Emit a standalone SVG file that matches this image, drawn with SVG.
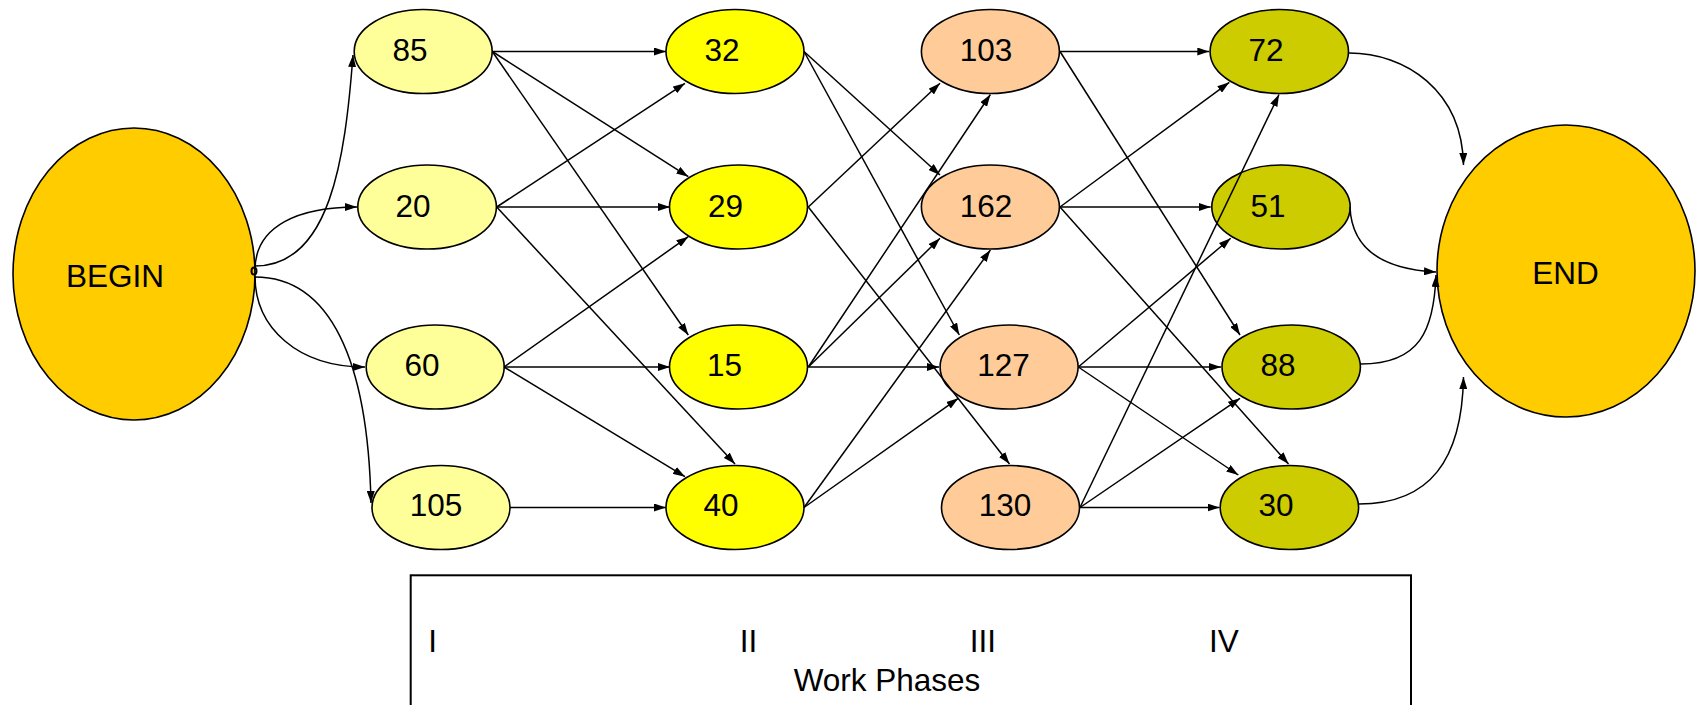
<svg xmlns="http://www.w3.org/2000/svg" width="1696" height="705" viewBox="0 0 1696 705">
<defs>
<marker id="arr" markerUnits="userSpaceOnUse" markerWidth="12" markerHeight="8" refX="12" refY="4" orient="auto">
<path d="M0,0 L12,4 L0,8 z" fill="#000"/>
</marker>
<style>
.n ellipse{stroke:#000;stroke-width:1.6}
.c1{fill:#FFFF99}.c2{fill:#FFFF00}.c3{fill:#FFCC99}.c4{fill:#CCCC00}.ce{fill:#FFCC00}
text{font-family:"Liberation Sans",Arial,sans-serif;font-size:31.5px;fill:#000;text-anchor:middle}
#connectors path,#connectors line{stroke:#000;stroke-width:1.5;fill:none;marker-end:url(#arr)}
</style>
</defs>
<rect width="1696" height="705" fill="#fff"/>
<g id="nodes" class="n">
<g id="begin"><ellipse class="ce" cx="134" cy="274" rx="121" ry="146"/><text x="115" y="287">BEGIN</text></g>
<g id="end"><ellipse class="ce" cx="1566" cy="271" rx="129" ry="146"/><text x="1565.5" y="284">END</text></g>
<g id="n85"><ellipse class="c1" cx="423.2" cy="51.5" rx="69" ry="42"/><text x="410" y="61">85</text></g>
<g id="n20"><ellipse class="c1" cx="427.1" cy="207" rx="69.3" ry="42"/><text x="413" y="217">20</text></g>
<g id="n60"><ellipse class="c1" cx="435.2" cy="367" rx="69" ry="42"/><text x="422" y="376">60</text></g>
<g id="n105"><ellipse class="c1" cx="441" cy="507.5" rx="69" ry="42"/><text x="436" y="516">105</text></g>
<g id="n32"><ellipse class="c2" cx="735" cy="51.5" rx="69" ry="42"/><text x="722" y="61">32</text></g>
<g id="n29"><ellipse class="c2" cx="738.5" cy="207" rx="69" ry="42"/><text x="725.5" y="217">29</text></g>
<g id="n15"><ellipse class="c2" cx="738.5" cy="367" rx="69" ry="42"/><text x="724.5" y="376">15</text></g>
<g id="n40"><ellipse class="c2" cx="735" cy="507.5" rx="69" ry="42"/><text x="721" y="516">40</text></g>
<g id="n103"><ellipse class="c3" cx="990.4" cy="51.5" rx="69" ry="42"/><text x="986" y="61">103</text></g>
<g id="n162"><ellipse class="c3" cx="990.4" cy="207" rx="69" ry="42"/><text x="986" y="217">162</text></g>
<g id="n127"><ellipse class="c3" cx="1009.1" cy="367" rx="69" ry="42"/><text x="1003.5" y="376">127</text></g>
<g id="n130"><ellipse class="c3" cx="1010.5" cy="507.5" rx="69" ry="42"/><text x="1005" y="516">130</text></g>
<g id="n72"><ellipse class="c4" cx="1279.3" cy="51.5" rx="69.2" ry="42"/><text x="1266" y="61">72</text></g>
<g id="n51"><ellipse class="c4" cx="1281" cy="207" rx="69.2" ry="42"/><text x="1268" y="217">51</text></g>
<g id="n88"><ellipse class="c4" cx="1291.2" cy="367" rx="69.2" ry="42"/><text x="1278" y="376">88</text></g>
<g id="n30"><ellipse class="c4" cx="1289.4" cy="507.5" rx="69.2" ry="42"/><text x="1276" y="516">30</text></g>
</g>
<g id="connectors">
<path d="M255,266 C330,266 345,160 353,55"/>
<path d="M255,270 C255,225 300,207 357,207"/>
<path d="M255,276 C255,328 298,367 365,367"/>
<path d="M255,277 C330,277 368,360 371,503"/>
<ellipse cx="254" cy="271" rx="2.5" ry="3.5" style="stroke:#000;stroke-width:2;fill:none;marker-end:none"/>
<line x1="492.3" y1="51.5" x2="666" y2="51.5"/>
<line x1="492.3" y1="51.5" x2="688.3" y2="176.7"/>
<line x1="492.3" y1="51.5" x2="688.3" y2="335"/>
<line x1="496.7" y1="207" x2="685" y2="83.3"/>
<line x1="496.7" y1="207" x2="670" y2="207"/>
<line x1="496.7" y1="207" x2="735" y2="464"/>
<line x1="504" y1="367" x2="688.3" y2="236.7"/>
<line x1="504" y1="367" x2="670" y2="367"/>
<line x1="504" y1="367" x2="685" y2="476.7"/>
<line x1="510" y1="507.5" x2="666" y2="507.5"/>
<line x1="804" y1="51.5" x2="940" y2="175"/>
<line x1="804" y1="51.5" x2="959.3" y2="335"/>
<line x1="808.3" y1="207" x2="940" y2="83.3"/>
<line x1="808.3" y1="207" x2="1009.5" y2="464"/>
<line x1="808.3" y1="367" x2="990.4" y2="94.5"/>
<line x1="808.3" y1="367" x2="940" y2="238.3"/>
<line x1="808.3" y1="367" x2="939" y2="367"/>
<line x1="804" y1="507.5" x2="990.4" y2="250"/>
<line x1="804" y1="507.5" x2="958.3" y2="398.3"/>
<line x1="1060" y1="51.5" x2="1209.3" y2="51.5"/>
<line x1="1060" y1="51.5" x2="1240" y2="335"/>
<line x1="1060" y1="207" x2="1229.3" y2="82.3"/>
<line x1="1060" y1="207" x2="1210.7" y2="207"/>
<line x1="1060" y1="207" x2="1288.5" y2="464"/>
<line x1="1078.3" y1="367" x2="1230.7" y2="238.3"/>
<line x1="1078.3" y1="367" x2="1221" y2="367"/>
<line x1="1078.3" y1="367" x2="1238.3" y2="475"/>
<line x1="1080" y1="507.5" x2="1279" y2="94.5"/>
<line x1="1080" y1="507.5" x2="1240" y2="398.3"/>
<line x1="1080" y1="507.5" x2="1219.5" y2="507.5"/>
<path d="M1349,53 C1405,53 1462,90 1463.5,165"/>
<path d="M1350,207 C1352,258 1398,270 1436,272"/>
<path d="M1361,364 C1420,364 1434,330 1436,275"/>
<path d="M1359,504 C1430,504 1462,460 1463.5,377"/>
</g>
<g id="legend">
<rect x="410.7" y="575.3" width="1000.3" height="160" fill="none" stroke="#000" stroke-width="2"/>
<text x="432.7" y="651.7">I</text>
<text x="748.5" y="651.7">II</text>
<text x="983" y="651.7">III</text>
<text x="1224" y="651.7">IV</text>
<text x="887" y="690.7">Work Phases</text>
</g>
</svg>
